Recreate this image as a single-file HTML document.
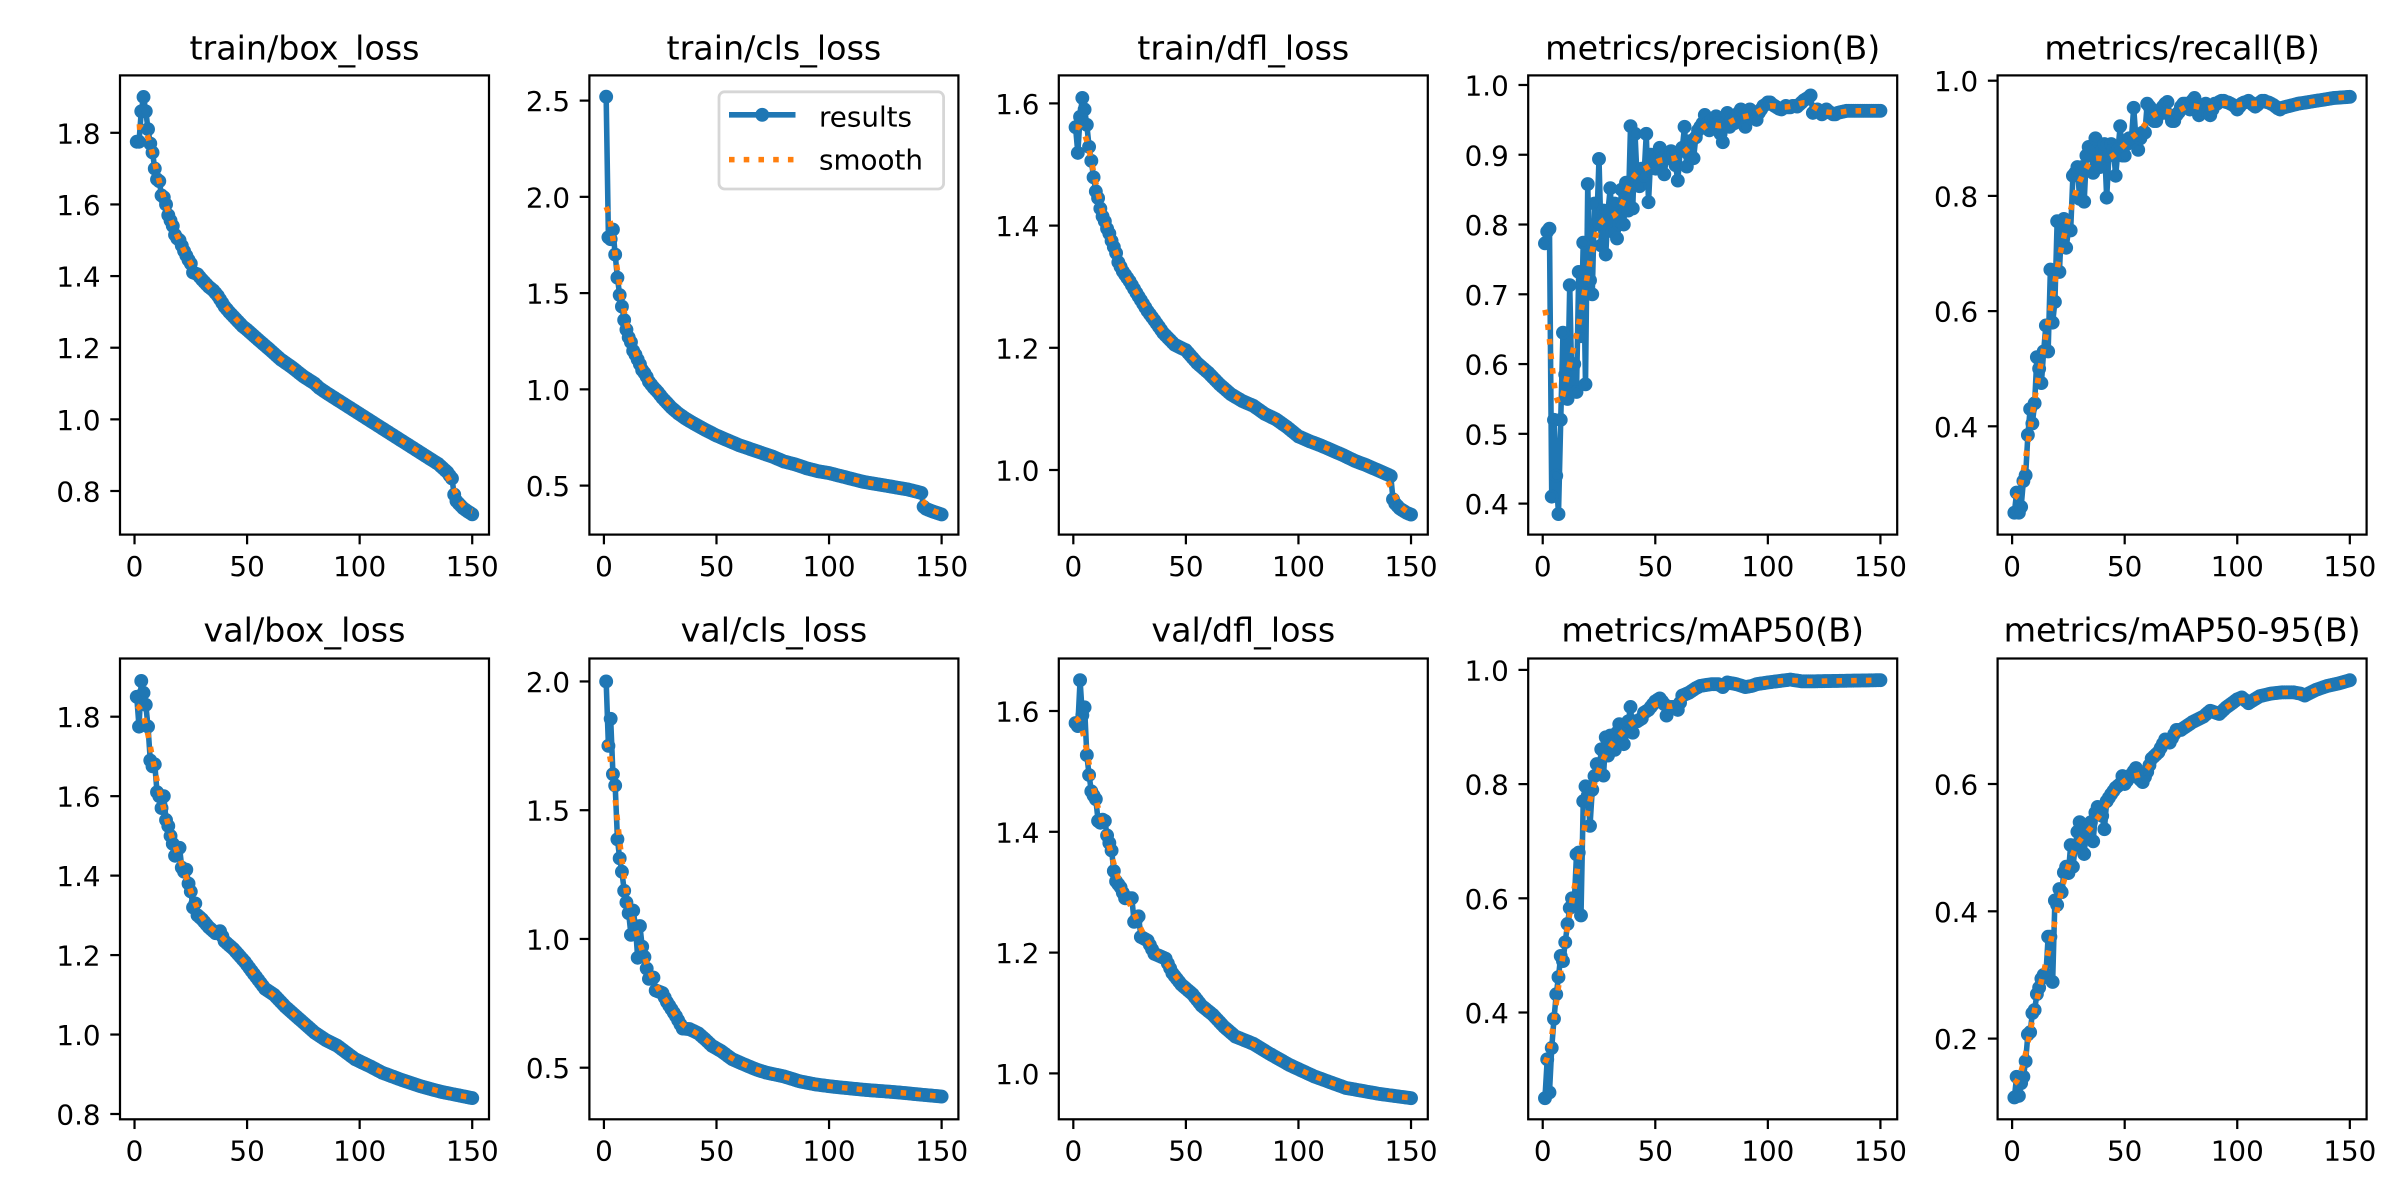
<!DOCTYPE html>
<html><head><meta charset="utf-8"><style>
html,body{margin:0;padding:0;background:#fff;}
svg{display:block}
text{font-family:"DejaVu Sans","Liberation Sans",sans-serif;fill:#000}
.t{font-size:33.33px;text-anchor:middle}
.xl{font-size:27.78px;text-anchor:middle}
.yl{font-size:27.78px;text-anchor:end}
.lg{font-size:27.78px}
</style></head><body>
<svg id="s" width="2400" height="1200" viewBox="0 0 2400 1200" xmlns="http://www.w3.org/2000/svg">
<rect x="0" y="0" width="2400" height="1200" fill="#fff"/>
<g id="plots"></g>
<g id="txt">
<text class="t" x="304.5" y="59.3">train/box_loss</text>
<text class="t" x="773.9" y="59.3">train/cls_loss</text>
<text class="t" x="1243.3" y="59.3">train/dfl_loss</text>
<text class="t" x="1712.7" y="59.3">metrics/precision(B)</text>
<text class="t" x="2182.1" y="59.3">metrics/recall(B)</text>
<text class="t" x="304.5" y="641.5">val/box_loss</text>
<text class="t" x="773.9" y="641.5">val/cls_loss</text>
<text class="t" x="1243.3" y="641.5">val/dfl_loss</text>
<text class="t" x="1712.7" y="641.5">metrics/mAP50(B)</text>
<text class="t" x="2182.1" y="641.5">metrics/mAP50-95(B)</text>

<text class="xl" x="134.52" y="576">0</text><text class="xl" x="247.09" y="576">50</text><text class="xl" x="359.65" y="576">100</text><text class="xl" x="472.22" y="576">150</text>
<text class="xl" x="603.92" y="576">0</text><text class="xl" x="716.49" y="576">50</text><text class="xl" x="829.05" y="576">100</text><text class="xl" x="941.62" y="576">150</text>
<text class="xl" x="1073.32" y="576">0</text><text class="xl" x="1185.89" y="576">50</text><text class="xl" x="1298.45" y="576">100</text><text class="xl" x="1411.02" y="576">150</text>
<text class="xl" x="1542.72" y="576">0</text><text class="xl" x="1655.29" y="576">50</text><text class="xl" x="1767.85" y="576">100</text><text class="xl" x="1880.42" y="576">150</text>
<text class="xl" x="2012.12" y="576">0</text><text class="xl" x="2124.69" y="576">50</text><text class="xl" x="2237.25" y="576">100</text><text class="xl" x="2349.82" y="576">150</text>

<text class="xl" x="134.52" y="1160.5">0</text><text class="xl" x="247.09" y="1160.5">50</text><text class="xl" x="359.65" y="1160.5">100</text><text class="xl" x="472.22" y="1160.5">150</text>
<text class="xl" x="603.92" y="1160.5">0</text><text class="xl" x="716.49" y="1160.5">50</text><text class="xl" x="829.05" y="1160.5">100</text><text class="xl" x="941.62" y="1160.5">150</text>
<text class="xl" x="1073.32" y="1160.5">0</text><text class="xl" x="1185.89" y="1160.5">50</text><text class="xl" x="1298.45" y="1160.5">100</text><text class="xl" x="1411.02" y="1160.5">150</text>
<text class="xl" x="1542.72" y="1160.5">0</text><text class="xl" x="1655.29" y="1160.5">50</text><text class="xl" x="1767.85" y="1160.5">100</text><text class="xl" x="1880.42" y="1160.5">150</text>
<text class="xl" x="2012.12" y="1160.5">0</text><text class="xl" x="2124.69" y="1160.5">50</text><text class="xl" x="2237.25" y="1160.5">100</text><text class="xl" x="2349.82" y="1160.5">150</text>

<text class="yl" x="100.6" y="501.5">0.8</text><text class="yl" x="100.6" y="429.9">1.0</text><text class="yl" x="100.6" y="358.2">1.2</text><text class="yl" x="100.6" y="286.6">1.4</text><text class="yl" x="100.6" y="214.9">1.6</text><text class="yl" x="100.6" y="143.3">1.8</text>
<text class="yl" x="570" y="496.1">0.5</text><text class="yl" x="570" y="399.85">1.0</text><text class="yl" x="570" y="303.6">1.5</text><text class="yl" x="570" y="207.35">2.0</text><text class="yl" x="570" y="111.1">2.5</text>
<text class="yl" x="1039.4" y="480.5">1.0</text><text class="yl" x="1039.4" y="358.3">1.2</text><text class="yl" x="1039.4" y="236.1">1.4</text><text class="yl" x="1039.4" y="113.9">1.6</text>
<text class="yl" x="1508.8" y="514.1">0.4</text><text class="yl" x="1508.8" y="444.33">0.5</text><text class="yl" x="1508.8" y="374.56">0.6</text><text class="yl" x="1508.8" y="304.79">0.7</text><text class="yl" x="1508.8" y="235.02">0.8</text><text class="yl" x="1508.8" y="165.25">0.9</text><text class="yl" x="1508.8" y="95.48">1.0</text>
<text class="yl" x="1978.2" y="436.8">0.4</text><text class="yl" x="1978.2" y="321.6">0.6</text><text class="yl" x="1978.2" y="206.4">0.8</text><text class="yl" x="1978.2" y="91.2">1.0</text>

<text class="yl" x="100.6" y="1124.5">0.8</text><text class="yl" x="100.6" y="1045.04">1.0</text><text class="yl" x="100.6" y="965.58">1.2</text><text class="yl" x="100.6" y="886.12">1.4</text><text class="yl" x="100.6" y="806.66">1.6</text><text class="yl" x="100.6" y="727.2">1.8</text>
<text class="yl" x="570" y="1078.2">0.5</text><text class="yl" x="570" y="949.45">1.0</text><text class="yl" x="570" y="820.7">1.5</text><text class="yl" x="570" y="691.95">2.0</text>
<text class="yl" x="1039.4" y="1083.9">1.0</text><text class="yl" x="1039.4" y="963.1">1.2</text><text class="yl" x="1039.4" y="842.3">1.4</text><text class="yl" x="1039.4" y="721.5">1.6</text>
<text class="yl" x="1508.8" y="1023">0.4</text><text class="yl" x="1508.8" y="908.8">0.6</text><text class="yl" x="1508.8" y="794.6">0.8</text><text class="yl" x="1508.8" y="680.4">1.0</text>
<text class="yl" x="1978.2" y="1049.1">0.2</text><text class="yl" x="1978.2" y="921.8">0.4</text><text class="yl" x="1978.2" y="794.5">0.6</text>
</g>
<g id="legend">
<rect x="719" y="91.8" width="224.6" height="97.2" rx="5.6" ry="5.6" fill="#fff" fill-opacity="0.8" stroke="#d6d6d6" stroke-width="2.78"/>
<line x1="729" y1="114.8" x2="795.5" y2="114.8" stroke="#1f77b4" stroke-width="5.56"/>
<circle cx="762.2" cy="114.8" r="5.56" fill="#1f77b4" stroke="#1f77b4" stroke-width="2.78"/>
<line x1="729" y1="159.6" x2="795.5" y2="159.6" stroke="#ff7f0e" stroke-width="5.56" stroke-dasharray="5.56 9.17"/>
<text class="lg" x="819" y="126.3">results</text>
<text class="lg" x="819" y="169.5">smooth</text>
</g>
</svg>
<script>
(function(){
var NS="http://www.w3.org/2000/svg";
function interp(kf){var out=[],j=0;for(var e=1;e<=150;e++){while(j<kf.length-2&&kf[j+1][0]<e)j++;var e0=kf[j][0],a=kf[j][1],e1=kf[j+1][0],b=kf[j+1][1];var v;if(e<=e0)v=a;else if(e>=e1)v=b;else v=a+(b-a)*(e-e0)/(e1-e0);out.push(v);}return out;}
function gauss(y){var s=3,r=12,w=[],sum=0,i;for(i=-r;i<=r;i++){var g=Math.exp(-0.5*(i/s)*(i/s));w.push(g);sum+=g;}var n=y.length,out=[];for(var k=0;k<n;k++){var acc=0;for(i=-r;i<=r;i++){var idx=k+i;while(idx<0||idx>=n){if(idx<0)idx=-idx-1;if(idx>=n)idx=2*n-idx-1;}acc+=w[i+r]*y[idx];}out.push(acc/sum);}return out;}
function seq(start,vals){var r=[];for(var i=0;i<vals.length;i++)r.push([start+i,vals[i]]);return r;}

var BOX=[[1,1.775],[2,1.775],[3,1.86],[4,1.90],[5,1.86],[6,1.81],[7,1.77],[8,1.745],[9,1.70],[10,1.67],[11,1.665],[12,1.625],[13,1.62],[14,1.60],[15,1.57],[16,1.555],[17,1.54],[18,1.515],[19,1.505],[20,1.50],[22,1.47],[24,1.445],[25,1.435],[26,1.41],[28,1.405],[30,1.39],[33,1.37],[35,1.36],[37,1.345],[40,1.315],[42,1.30],[45,1.28],[48,1.26],[50,1.25],[55,1.222],[60,1.195],[65,1.167],[70,1.145],[75,1.12],[80,1.10],[82,1.088],[85,1.075],[90,1.055],[95,1.035],[100,1.015],[105,0.995],[110,0.975],[115,0.955],[120,0.935],[125,0.915],[130,0.895],[135,0.875],[139,0.852],[140,0.843],[141,0.835],[142,0.79],[143,0.772],[144,0.765],[146,0.752],[148,0.743],[150,0.735]];
var CLS=[[1,2.52],[2,1.79],[3,1.78],[4,1.83],[5,1.70],[6,1.58],[7,1.49],[8,1.43],[9,1.36],[10,1.31],[11,1.27],[12,1.245],[13,1.20],[14,1.18],[15,1.155],[16,1.13],[17,1.10],[18,1.085],[19,1.065],[20,1.04],[22,1.01],[24,0.985],[26,0.955],[28,0.93],[30,0.905],[33,0.875],[36,0.85],[40,0.822],[45,0.79],[50,0.76],[55,0.735],[60,0.71],[65,0.69],[70,0.67],[75,0.65],[80,0.625],[85,0.61],[90,0.59],[95,0.575],[100,0.565],[105,0.55],[110,0.535],[115,0.52],[120,0.51],[125,0.50],[130,0.49],[135,0.48],[140,0.465],[141,0.462],[142,0.39],[143,0.38],[145,0.37],[148,0.358],[150,0.35]];
var DFL=[[1,1.561],[2,1.519],[3,1.578],[4,1.609],[5,1.59],[6,1.565],[7,1.529],[8,1.506],[9,1.479],[10,1.456],[11,1.445],[12,1.428],[13,1.415],[14,1.407],[15,1.395],[16,1.387],[17,1.375],[18,1.365],[19,1.355],[20,1.34],[22,1.325],[25,1.309],[28,1.29],[30,1.278],[33,1.26],[36,1.245],[40,1.224],[45,1.205],[50,1.196],[55,1.175],[60,1.159],[65,1.14],[70,1.124],[75,1.113],[80,1.105],[85,1.092],[90,1.083],[95,1.07],[100,1.055],[105,1.047],[110,1.040],[115,1.032],[120,1.024],[125,1.015],[130,1.008],[135,1.0],[140,0.992],[141,0.99],[142,0.952],[143,0.945],[145,0.937],[148,0.93],[150,0.927]];
var PREC=seq(1,[0.773,0.79,0.794,0.41,0.52,0.44,0.385,0.52,0.645,0.585,0.55,0.713,0.56,0.60,0.56,0.732,0.64,0.774,0.571,0.858,0.72,0.70,0.83,0.80,0.894,0.77,0.82,0.757,0.82,0.852,0.79,0.83,0.78,0.80,0.85,0.80,0.86,0.82,0.941,0.823,0.93,0.86,0.855,0.88,0.87,0.93,0.832,0.90,0.89,0.88,0.895,0.91,0.895,0.872,0.90,0.895,0.905,0.90,0.885,0.863,0.905,0.91,0.94,0.883,0.90,0.92,0.895,0.925,0.935,0.94,0.945,0.957,0.945,0.935,0.95,0.94,0.955,0.945,0.93,0.918,0.945,0.96,0.94,0.95,0.945,0.955,0.96,0.965,0.945,0.94,0.96,0.965,0.96,0.955,0.95,0.96,0.965,0.97,0.972,0.975,0.975,0.972,0.97,0.968,0.966,0.965,0.967,0.97,0.968,0.968,0.97,0.97,0.969,0.972,0.975,0.978,0.98,0.982,0.985,0.96,0.962,0.965,0.962,0.958,0.96,0.965,0.962,0.96,0.958,0.958,0.96]).concat([[135,0.963],[150,0.963]]);
var REC=seq(1,[0.25,0.285,0.25,0.26,0.305,0.315,0.385,0.43,0.405,0.44,0.52,0.50,0.475,0.53,0.575,0.53,0.672,0.58,0.616,0.756,0.668,0.75,0.76,0.71,0.74,0.74,0.835,0.84,0.85,0.795,0.85,0.79,0.87,0.885,0.88,0.84,0.90,0.86,0.85,0.88,0.89,0.797,0.87,0.89,0.88,0.835,0.88,0.921,0.87,0.87,0.89,0.90,0.90,0.953,0.90,0.88,0.90,0.91,0.91,0.96,0.955,0.95,0.93,0.93,0.94,0.95,0.955,0.96,0.963,0.94,0.93,0.93,0.94,0.945,0.955,0.96,0.96,0.955,0.95,0.965,0.97,0.96,0.94,0.945,0.955,0.96,0.945,0.94,0.95,0.96,0.96,0.963,0.965,0.965,0.963,0.962,0.96,0.958,0.955,0.95,0.955,0.96,0.962,0.963,0.965,0.962,0.958,0.955,0.958,0.962,0.965,0.965,0.963,0.962,0.96,0.958,0.955,0.952,0.95,0.953]).concat([[127,0.96],[135,0.965],[143,0.97],[150,0.972]]);
var VBOX=[[1,1.85],[2,1.775],[3,1.89],[4,1.86],[5,1.83],[6,1.775],[7,1.69],[8,1.675],[9,1.68],[10,1.61],[11,1.60],[12,1.57],[13,1.60],[14,1.54],[15,1.525],[16,1.50],[17,1.48],[18,1.45],[19,1.465],[20,1.47],[21,1.42],[22,1.41],[23,1.415],[24,1.38],[25,1.36],[26,1.32],[27,1.33],[28,1.30],[30,1.29],[33,1.27],[36,1.255],[38,1.26],[40,1.235],[44,1.215],[49,1.183],[52,1.16],[58,1.115],[62,1.10],[67,1.07],[72,1.045],[80,1.005],[85,0.986],[90,0.972],[98,0.938],[105,0.919],[110,0.904],[119,0.885],[127,0.870],[136,0.856],[150,0.84]];
var VCLS=[[1,2.0],[2,1.75],[3,1.855],[4,1.64],[5,1.596],[6,1.387],[7,1.313],[8,1.261],[9,1.187],[10,1.142],[11,1.10],[12,1.016],[13,1.11],[14,1.05],[15,0.927],[16,1.05],[17,0.97],[18,0.93],[19,0.885],[20,0.845],[22,0.85],[23,0.80],[26,0.79],[28,0.755],[32,0.70],[35,0.652],[38,0.65],[42,0.633],[45,0.61],[48,0.585],[52,0.565],[57,0.533],[63,0.51],[68,0.492],[72,0.481],[80,0.466],[87,0.447],[94,0.435],[102,0.426],[110,0.419],[117,0.413],[125,0.408],[132,0.403],[140,0.396],[150,0.388]];
var VDFL=[[1,1.58],[2,1.575],[3,1.651],[4,1.593],[5,1.606],[6,1.527],[7,1.494],[8,1.467],[9,1.46],[10,1.454],[11,1.418],[12,1.415],[13,1.42],[14,1.418],[15,1.394],[17,1.369],[18,1.335],[19,1.318],[21,1.308],[23,1.29],[26,1.29],[27,1.251],[29,1.26],[30,1.226],[33,1.22],[36,1.198],[41,1.19],[44,1.166],[48,1.147],[53,1.131],[57,1.112],[62,1.097],[67,1.077],[72,1.061],[80,1.049],[87,1.033],[96,1.014],[107,0.995],[121,0.976],[136,0.966],[150,0.959]];
var MAP50=[[1,0.25],[2,0.318],[3,0.26],[4,0.338],[5,0.389],[6,0.432],[7,0.462],[8,0.499],[9,0.49],[10,0.523],[11,0.555],[12,0.583],[13,0.60],[14,0.59],[15,0.677],[16,0.68],[17,0.57],[18,0.77],[19,0.796],[20,0.78],[21,0.727],[22,0.79],[23,0.814],[24,0.835],[25,0.82],[26,0.861],[27,0.815],[28,0.882],[29,0.85],[30,0.885],[31,0.87],[32,0.86],[33,0.89],[34,0.905],[35,0.88],[36,0.87],[37,0.90],[38,0.91],[39,0.935],[40,0.89],[41,0.91],[42,0.91],[44,0.915],[45,0.925],[47,0.93],[48,0.935],[50,0.945],[52,0.95],[54,0.94],[55,0.92],[56,0.935],[58,0.935],[60,0.93],[62,0.955],[65,0.96],[68,0.968],[70,0.972],[75,0.975],[78,0.975],[80,0.97],[82,0.978],[86,0.975],[90,0.97],[93,0.972],[95,0.975],[100,0.978],[110,0.983],[115,0.98],[120,0.98],[150,0.982]];
var MAP95=[[1,0.1075],[2,0.14],[3,0.11],[4,0.13],[5,0.14],[6,0.1645],[7,0.2066],[8,0.21],[9,0.24],[10,0.245],[11,0.27],[12,0.28],[13,0.294],[14,0.30],[15,0.30],[16,0.36],[17,0.36],[18,0.289],[19,0.417],[20,0.41],[21,0.435],[22,0.43],[23,0.461],[24,0.47],[25,0.46],[26,0.504],[27,0.47],[28,0.50],[29,0.525],[30,0.54],[31,0.52],[32,0.49],[33,0.53],[34,0.52],[35,0.54],[36,0.51],[37,0.555],[38,0.564],[39,0.56],[40,0.55],[41,0.529],[42,0.573],[44,0.584],[46,0.594],[48,0.60],[49,0.6125],[50,0.60],[52,0.61],[55,0.625],[56,0.61],[58,0.603],[60,0.619],[62,0.64],[65,0.65],[68,0.67],[70,0.665],[73,0.685],[75,0.685],[80,0.697],[85,0.706],[88,0.715],[92,0.71],[95,0.72],[100,0.733],[102,0.736],[105,0.727],[110,0.738],[115,0.742],[120,0.744],[125,0.744],[128,0.742],[130,0.739],[135,0.748],[140,0.754],[145,0.758],[150,0.763]];

var AX=[
{L:120,T:75.4,B:534.6,y0:491,v0:0.8,k:358.2,ticks:[0.8,1.0,1.2,1.4,1.6,1.8],kf:BOX},
{L:589.4,T:75.4,B:534.6,y0:485.6,v0:0.5,k:192.5,ticks:[0.5,1.0,1.5,2.0,2.5],kf:CLS},
{L:1058.8,T:75.4,B:534.6,y0:470,v0:1.0,k:611,ticks:[1.0,1.2,1.4,1.6],kf:DFL},
{L:1528.2,T:75.4,B:534.6,y0:503.6,v0:0.4,k:697.7,ticks:[0.4,0.5,0.6,0.7,0.8,0.9,1.0],kf:PREC},
{L:1997.6,T:75.4,B:534.6,y0:426.3,v0:0.4,k:576,ticks:[0.4,0.6,0.8,1.0],kf:REC},
{L:120,T:658.5,B:1119.3,y0:1114,v0:0.8,k:397.3,ticks:[0.8,1.0,1.2,1.4,1.6,1.8],kf:VBOX},
{L:589.4,T:658.5,B:1119.3,y0:1067.7,v0:0.5,k:257.5,ticks:[0.5,1.0,1.5,2.0],kf:VCLS},
{L:1058.8,T:658.5,B:1119.3,y0:1073.4,v0:1.0,k:604,ticks:[1.0,1.2,1.4,1.6],kf:VDFL},
{L:1528.2,T:658.5,B:1119.3,y0:1012.5,v0:0.4,k:571,ticks:[0.4,0.6,0.8,1.0],kf:MAP50},
{L:1997.6,T:658.5,B:1119.3,y0:1038.6,v0:0.2,k:636.5,ticks:[0.2,0.4,0.6],kf:MAP95}
];
var W=369,XS=2.2513,X0=-6.45;
var g=document.getElementById("plots");
function el(n,a){var e=document.createElementNS(NS,n);for(var k in a)e.setAttribute(k,a[k]);return e;}
AX.forEach(function(a){
  var y=interp(a.kf), sm=gauss(y);
  function px(e){return (a.L+(e-X0)*XS).toFixed(2);}
  function py(v){return (a.y0-(v-a.v0)*a.k).toFixed(2);}
  var d="",ds="",i;
  for(i=0;i<150;i++){d+=(i?"L":"M")+px(i+1)+" "+py(y[i]);ds+=(i?"L":"M")+px(i+1)+" "+py(sm[i]);}
  g.appendChild(el("path",{d:d,fill:"none",stroke:"#1f77b4","stroke-width":"5.56","stroke-linejoin":"round","stroke-linecap":"square"}));
  var mk=el("g",{fill:"#1f77b4",stroke:"#1f77b4","stroke-width":"2.78"});
  for(i=0;i<150;i++){mk.appendChild(el("circle",{cx:px(i+1),cy:py(y[i]),r:"5.56"}));}
  g.appendChild(mk);
  g.appendChild(el("path",{d:ds,fill:"none",stroke:"#ff7f0e","stroke-width":"5.56","stroke-dasharray":"5.56 9.17","stroke-linecap":"butt","stroke-linejoin":"round"}));
  g.appendChild(el("rect",{x:a.L,y:a.T,width:W,height:(a.B-a.T).toFixed(2),fill:"none",stroke:"#000","stroke-width":"2.22"}));
  [0,50,100,150].forEach(function(t){var x=px(t);g.appendChild(el("line",{x1:x,x2:x,y1:a.B,y2:a.B+9.72,stroke:"#000","stroke-width":"2.22"}));});
  a.ticks.forEach(function(t){var yy=py(t);g.appendChild(el("line",{x1:a.L-9.72,x2:a.L,y1:yy,y2:yy,stroke:"#000","stroke-width":"2.22"}));});
});
})();
</script>
</body></html>
